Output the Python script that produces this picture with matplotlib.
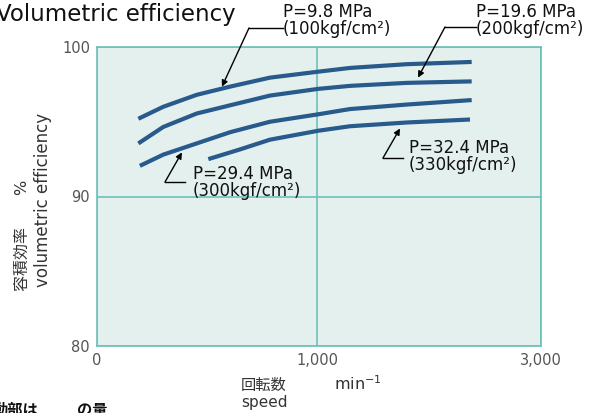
import matplotlib
matplotlib.use("Agg")
import matplotlib.pyplot as plt
import numpy as np

plt.rcParams['font.family'] = ['DejaVu Sans', 'Noto Sans CJK JP']

# ---------- DATA ----------
speed_ticks = [0, 1000, 3000]
speed_labels = ["0", "1,000", "3,000"]
eff_ticks = [80, 90, 100]

rpm_98 = [188, 301, 453, 605, 786, 1012, 1295, 1801, 2381]
eff_98 = [95.2, 96.0, 96.8, 97.35, 97.95, 98.35, 98.6, 98.85, 99.0]

rpm_196 = [188, 301, 453, 605, 786, 1012, 1295, 1801, 2381]
eff_196 = [93.55, 94.65, 95.55, 96.1, 96.75, 97.2, 97.4, 97.6, 97.7]

rpm_294 = [195, 301, 453, 605, 786, 1012, 1295, 1801, 2381]
eff_294 = [92.05, 92.8, 93.55, 94.3, 95.0, 95.5, 95.85, 96.15, 96.45]

rpm_324 = [506, 650, 786, 1012, 1295, 1801, 2366]
eff_324 = [92.5, 93.15, 93.8, 94.4, 94.7, 94.95, 95.15]

labels = ["P=9.8 MPa\n(100kgf/cm²)", "P=19.6 MPa\n(200kgf/cm²)",
          "P=29.4 MPa\n(300kgf/cm²)", "P=32.4 MPa\n(330kgf/cm²)"]
# arrow tips (rpm, %)
tips = [(568, 97.35), (1902, 97.95), (386, 92.95), (1741, 94.55)]

W, H = 603, 413
line_col = "#285a8c"
teal = "#6cc0b8"
face = "#e4f0ee"


def px(x, y):
    return (x / W, 1 - y / H)


# piecewise axis: 0-1000 and 1000-3000 take about half each
def fwd(x):
    x = np.asarray(x, dtype=float)
    return np.where(x <= 1000, x / 1000 * 220, 220 + (x - 1000) / 2000 * 224)


def inv(u):
    u = np.asarray(u, dtype=float)
    return np.where(u <= 220, u / 220 * 1000, 1000 + (u - 220) / 224 * 2000)


fig = plt.figure(figsize=(W / 100, H / 100), dpi=100)
ax = fig.add_axes([97 / W, 1 - 346 / H, 444 / W, 299 / H])
ax.set_facecolor(face)
ax.set_xscale('function', functions=(fwd, inv))
ax.set_xlim(0, 3000)
ax.set_ylim(80, 100)
ax.set_xticks(speed_ticks)
ax.set_xticklabels(speed_labels)
ax.set_yticks(eff_ticks)
ax.xaxis.set_minor_locator(matplotlib.ticker.NullLocator())
ax.tick_params(length=0, labelsize=10.5, colors="#555555", pad=5)
ax.grid(color=teal, lw=1.2)
for s in ax.spines.values():
    s.set_color(teal)
    s.set_linewidth(1.2)

for r, e in [(rpm_98, eff_98), (rpm_196, eff_196), (rpm_294, eff_294), (rpm_324, eff_324)]:
    ax.plot(r, e, color=line_col, lw=3.0, solid_capstyle='butt', solid_joinstyle='round', zorder=3)

# leader lines: (corner, end of horizontal, text position)
leaders = [((249, 28), (283, 28), (283, 3)),
           ((445, 27), (476, 27), (476, 3)),
           ((165, 182), (185, 182), (193, 165)),
           ((383, 158), (403, 158), (409, 139))]
for lab, tip, (c, h, t) in zip(labels, tips, leaders):
    ax.annotate('', xy=tip, xycoords='data', xytext=px(*c), textcoords='figure fraction',
                arrowprops=dict(arrowstyle='-|>', color='black', lw=1, shrinkA=0, shrinkB=0,
                                mutation_scale=9), annotation_clip=False, zorder=4)
    fig.add_artist(plt.Line2D([c[0] / W, h[0] / W], [1 - c[1] / H, 1 - h[1] / H],
                              color='black', lw=1))
    fig.text(*px(*t), lab, fontsize=12, va='top', ha='left', linespacing=0.92, color='#111111')

fig.text(*px(-4, 21), "Volumetric efficiency", fontsize=16.5, va='baseline', ha='left', color='#111111')

fig.text(*px(22, 235), "容積効率　　%", fontsize=11.5, rotation=90, va='center', ha='center',
         color='#333333')
fig.text(*px(43, 200), "volumetric efficiency", fontsize=12, rotation=90, va='center', ha='center',
         color='#333333')

fig.text(*px(241, 390), "回転数", fontsize=11, va='baseline', ha='left', color='#333333')
fig.text(*px(241, 407), "speed", fontsize=11, va='baseline', ha='left', color='#333333')
fig.text(*px(334, 390), r"min$^{\mathregular{-1}}$", fontsize=11.5, va='baseline', ha='left',
         color='#333333')

fig.text(*px(-7, 403), "動部は", fontsize=11, fontweight='bold', va='top', ha='left', color='#111111')
fig.text(*px(77, 403), "の量", fontsize=11, fontweight='bold', va='top', ha='left', color='#111111')

fig.savefig("out.png", dpi=100)
